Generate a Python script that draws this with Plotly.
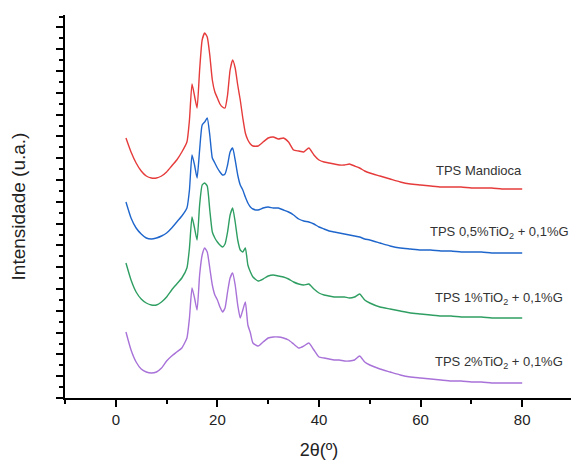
import plotly.graph_objects as go

two_theta = [2, 3, 4, 5, 6, 7, 8, 9, 10, 11, 12, 13, 14, 14.5, 15, 15.5, 16, 16.5, 17, 17.5,
             18, 18.5, 19, 19.5, 20, 20.5, 21, 21.5, 22, 22.5, 23, 23.5, 24, 24.5, 25, 25.5,
             26, 26.5, 27, 28, 29, 30, 31, 32, 33, 34, 35, 36, 37, 38, 39, 40, 41, 42, 43,
             44, 45, 46, 47, 48, 49, 50, 52, 54, 56, 58, 60, 62, 64, 66, 68, 70, 72, 74,
             76, 78, 80]

# intensities in arbitrary units (offset stacked as in the original figure)
tps_mandioca = [260, 246, 235, 227, 222, 220, 220, 222, 226, 232, 238, 246, 256, 278, 314, 302,
                290, 328, 358, 365, 361, 343, 318, 306, 300, 294, 291, 290, 303, 328, 338, 330,
                313, 298, 280, 265, 258, 254, 252, 252, 256, 260, 261, 259, 260, 256, 248, 247,
                246, 250, 243, 238, 236, 235, 234, 233, 233, 234, 232, 230, 227, 225, 222, 219,
                216, 214, 213, 212, 211, 211, 211, 210, 210, 210, 209, 209, 209]

tps_05tio2 = [196, 180, 170, 164, 160, 159, 160, 162, 165, 170, 176, 182, 190, 208, 243, 233,
              220, 248, 273, 276, 280, 263, 240, 235, 230, 226, 223, 224, 233, 246, 250, 238,
              223, 213, 208, 201, 195, 191, 189, 188, 190, 191, 190, 190, 188, 186, 183, 179,
              177, 176, 174, 171, 169, 167, 166, 165, 164, 163, 162, 161, 159, 158, 155, 152,
              150, 149, 148, 148, 147, 147, 146, 146, 146, 145, 145, 145, 145]

tps_1tio2 = [135, 118, 106, 99, 95, 93, 93, 96, 101, 108, 114, 120, 130, 150, 181, 170,
             158, 193, 213, 215, 212, 188, 166, 160, 156, 153, 151, 154, 166, 183, 190, 176,
             158, 148, 146, 150, 133, 126, 121, 117, 119, 122, 123, 122, 121, 119, 116, 114,
             113, 114, 109, 105, 103, 102, 101, 101, 101, 100, 101, 104, 98, 95, 91, 89,
             87, 85, 84, 83, 82, 82, 81, 81, 81, 80, 80, 80, 80]

tps_2tio2 = [66, 48, 36, 29, 26, 25, 26, 30, 37, 42, 46, 50, 60, 80, 110, 100,
             88, 123, 143, 150, 146, 130, 113, 103, 98, 91, 86, 90, 106, 120, 125, 113,
             93, 80, 88, 96, 73, 65, 55, 52, 56, 60, 61, 61, 60, 58, 54, 50,
             52, 55, 48, 41, 40, 39, 38, 38, 37, 37, 38, 42, 36, 33, 29, 26,
             23, 21, 20, 19, 18, 17, 17, 16, 16, 15, 15, 15, 15]

series_names = ["TPS Mandioca", "TPS 0,5%TiO<sub>2</sub> + 0,1%G",
                "TPS 1%TiO<sub>2</sub> + 0,1%G", "TPS 2%TiO<sub>2</sub> + 0,1%G"]
series_values = [tps_mandioca, tps_05tio2, tps_1tio2, tps_2tio2]
series_colors = ["#e63b3b", "#1f66cc", "#2f9e62", "#a872d8"]

# label anchor positions (2θ, intensity)
label_x = [71.5, 75.5, 75.5, 75.5]
label_y = [228, 166, 100, 36]

fig = go.Figure()
for name, vals, col in zip(series_names, series_values, series_colors):
    fig.add_trace(go.Scatter(x=two_theta, y=vals, mode="lines", name=name,
                             line=dict(color=col, width=1.4, shape="spline", smoothing=0.5),
                             showlegend=False))

for name, lx, ly in zip(series_names, label_x, label_y):
    fig.add_annotation(x=lx, y=ly, text=name, showarrow=False, xanchor="center",
                       yanchor="middle", font=dict(size=13, color="#333333"))

# page body keeps its default 8px margin, so the figure is sized to fit the window
fig.update_layout(
    width=571, height=452,
    margin=dict(l=57, r=6, t=7, b=62),
    paper_bgcolor="white", plot_bgcolor="white",
    font=dict(family="Liberation Sans, Arial, sans-serif", color="#222222"),
)
fig.update_xaxes(
    range=[-10, 90], tickmode="linear", tick0=0, dtick=20, automargin=False,
    ticks="outside", ticklen=7, tickwidth=1.5, tickcolor="black",
    minor=dict(ticks="outside", ticklen=4, tickwidth=1.5, tickcolor="black", dtick=10, tick0=0),
    showline=True, linecolor="black", linewidth=1.5, showgrid=False, zeroline=False,
    tickfont=dict(size=15, color="#222222"),
    title=dict(text="2θ(º)", font=dict(size=18, color="#222222"), standoff=18),
)
fig.update_yaxes(
    range=[0, 383], tickmode="linear", tick0=0, dtick=21.8, automargin=False,
    ticks="outside", ticklen=7, tickwidth=1.5, tickcolor="black",
    minor=dict(ticks="outside", ticklen=4, tickwidth=1.5, tickcolor="black", dtick=10.9, tick0=0),
    showline=True, linecolor="black", linewidth=1.5, showgrid=False, zeroline=False,
    showticklabels=False,
    title=dict(text="Intensidade (u.a.)", font=dict(size=19, color="#222222"), standoff=26),
)

fig.write_html("out.html")
